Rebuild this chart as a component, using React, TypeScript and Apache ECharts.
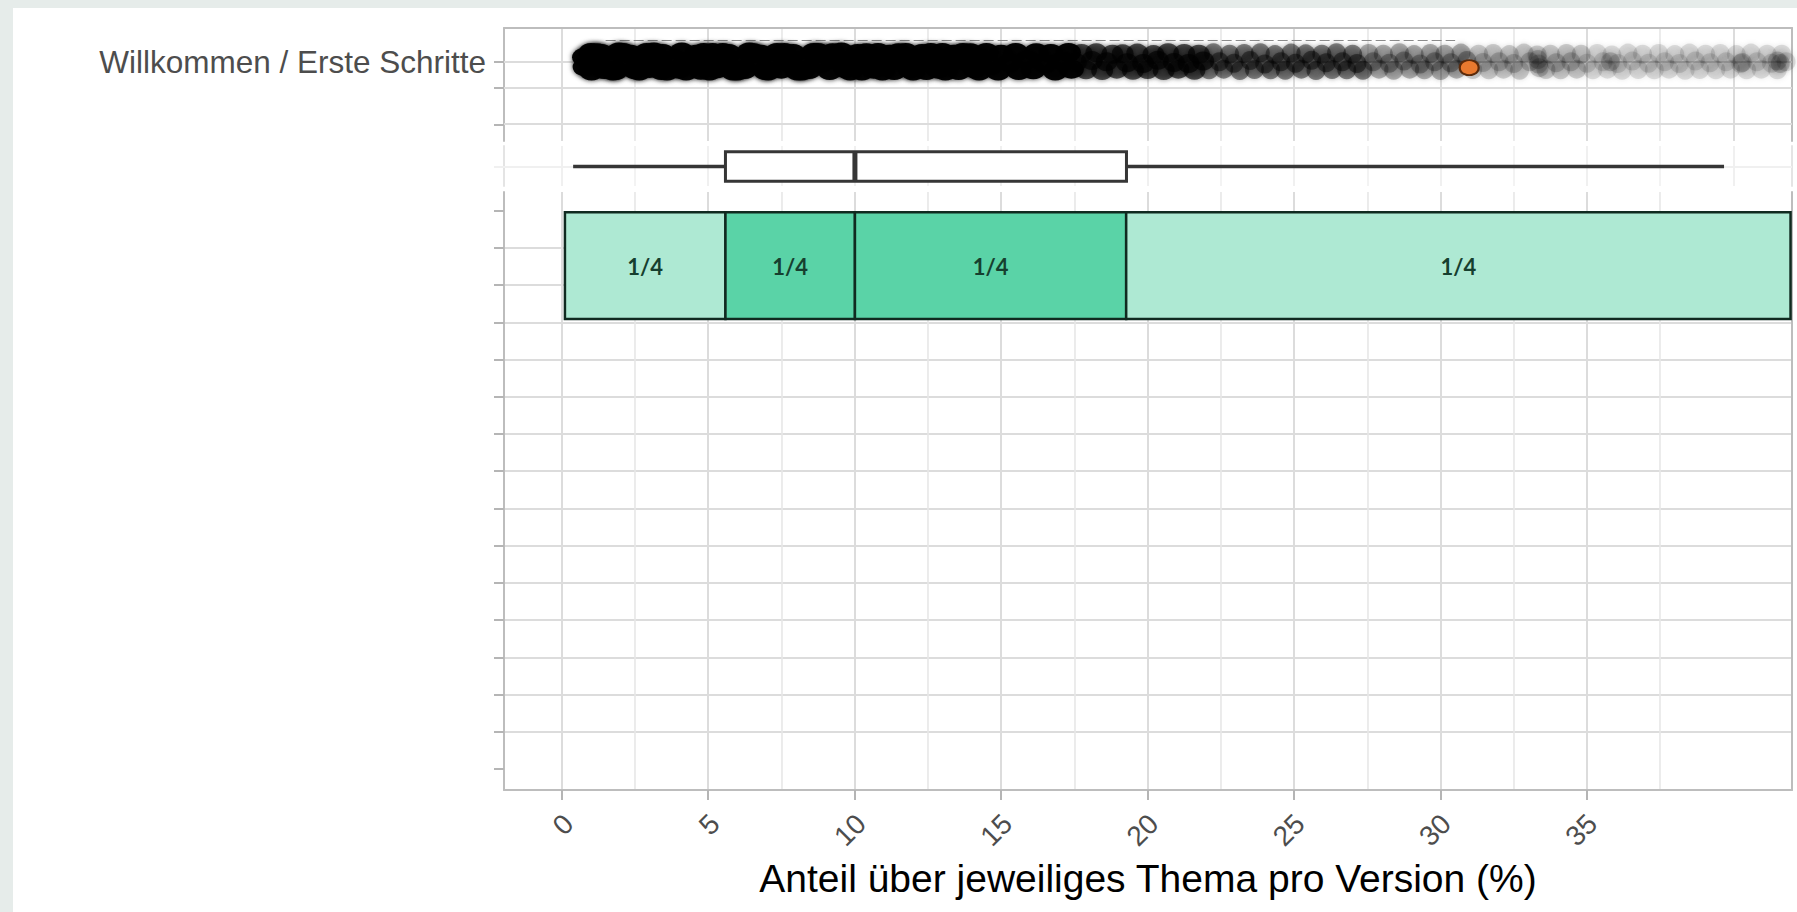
import React, { useEffect, useRef } from 'react';
import * as echarts from 'echarts';

// ---------- data ----------
const X_MIN = -1.97;
const X_MAX = 42.0;
const xTickValues = [0, 5, 10, 15, 20, 25, 30, 35];
const topicLabel = 'Willkommen / Erste Schritte';
const axisTitle = 'Anteil über jeweiliges Thema pro Version (%)';

// box plot statistics: min, q1, median, q3, max
const boxStats = [0.39, 5.59, 10.01, 19.28, 39.68];

// quartile bar
const quartileStarts = [0.11, 5.59, 10.01, 19.27];
const quartileEnds = [5.59, 10.01, 19.27, 41.95];
const quartileLabels = ['1/4', '1/4', '1/4', '1/4'];
const quartileShade = ['light', 'mid', 'mid', 'light'];

// highlighted version (orange point): [x, jitter]
const highlightPoint = [30.98, 0.16];

// jittered points of the topic row: [x, jitter]
const dotsBlack = [
  [0.78, -0.12], [0.8, 0.14], [1.0, -0.25], [1.02, 0.25], [1.1, 0.02], [1.2, -0.24], [1.35, -0.22], [1.45, 0.21],
  [1.6, -0.04], [1.75, 0.25], [1.85, 0.24], [1.95, -0.26], [2.1, -0.25], [2.2, 0.06], [2.35, -0.2], [2.5, 0.22],
  [2.65, 0.25], [2.75, -0.05], [2.9, -0.25], [3.0, 0.18], [3.15, -0.26], [3.3, 0.02], [3.4, 0.24], [3.45, -0.22],
  [3.6, 0.25], [3.85, -0.08], [4.0, 0.2], [4.1, -0.26], [4.25, 0.25], [4.4, 0.04], [4.6, -0.2], [4.75, 0.23],
  [4.85, -0.25], [4.95, -0.02], [5.05, 0.25], [5.15, -0.25], [5.3, 0.19], [5.5, -0.25], [5.55, 0.03], [5.7, -0.22],
  [5.85, 0.25], [6.0, 0.25], [6.1, -0.06], [6.25, 0.21], [6.4, -0.26], [6.55, -0.24], [6.65, 0.05], [6.8, -0.2],
  [6.95, 0.24], [7.05, 0.25], [7.2, -0.03], [7.35, -0.25], [7.5, 0.2], [7.6, -0.25], [7.75, 0.02], [7.9, -0.22],
  [8.05, 0.25], [8.2, 0.25], [8.3, -0.07], [8.45, 0.21], [8.6, -0.25], [8.75, -0.25], [8.85, 0.04], [9.0, -0.19],
  [9.15, 0.24], [9.25, -0.24], [9.4, -0.03], [9.55, -0.26], [9.7, 0.19], [9.85, 0.25], [9.95, 0.03], [10.1, -0.22],
  [10.25, 0.25], [10.4, -0.24], [10.5, -0.06], [10.65, 0.2], [10.8, -0.25], [10.95, 0.25], [11.05, 0.05], [11.2, -0.2],
  [11.35, 0.24], [11.5, -0.24], [11.6, -0.02], [11.75, -0.25], [11.9, 0.2], [12.0, 0.25], [12.15, 0.03], [12.3, -0.22],
  [12.45, 0.24], [12.6, -0.25], [12.7, -0.07], [12.85, 0.2], [13.0, -0.25], [13.1, 0.25], [13.25, 0.04], [13.4, -0.2],
  [13.55, 0.24], [13.7, -0.25], [13.8, -0.02], [13.95, -0.24], [14.1, 0.19], [14.25, 0.25], [14.3, -0.1], [14.5, -0.25],
  [14.65, 0.1], [14.9, 0.25], [15.0, -0.2], [15.3, 0.02], [15.5, -0.25], [15.6, 0.24], [15.9, -0.05], [16.1, 0.22],
  [16.2, -0.24], [16.5, 0.05], [16.7, -0.22], [16.85, 0.25], [17.1, -0.02], [17.3, -0.25], [17.4, 0.2]
];
const dotsDark = [
  [17.55, 0.02], [17.75, -0.22], [17.9, 0.22], [18.1, -0.03], [18.25, -0.24], [18.45, 0.24], [18.6, 0.0], [18.8, -0.2],
  [18.95, 0.2], [19.15, -0.21], [19.3, 0.03], [19.5, 0.23], [19.65, -0.23], [19.85, 0.05], [20.0, 0.21], [20.2, -0.19],
  [20.35, -0.04], [20.55, 0.24], [20.7, -0.24], [20.9, 0.02], [21.05, 0.2], [21.25, -0.22], [21.4, 0.05], [21.6, 0.23],
  [21.75, -0.2], [21.9, -0.02]
];
const dotsMid = [
  [22.1, 0.22], [22.25, -0.24], [22.45, 0.0], [22.6, 0.2], [22.8, -0.2], [22.95, 0.04], [23.15, 0.24], [23.3, -0.22],
  [23.5, -0.03], [23.65, 0.21], [23.85, -0.24], [24.0, 0.06], [24.2, 0.22], [24.35, -0.19], [24.55, 0.0], [24.7, 0.23],
  [24.9, -0.23], [25.05, 0.04], [25.25, 0.2], [25.4, -0.21], [25.6, -0.04], [25.75, 0.24], [25.95, -0.2], [26.1, 0.03],
  [26.3, 0.21], [26.45, -0.24], [26.65, 0.0], [26.8, 0.22], [27.0, -0.2], [27.15, 0.05], [27.35, 0.23]
];
const dotsLight = [
  [27.55, -0.22], [27.7, 0.0], [27.9, 0.2], [28.05, -0.2], [28.25, 0.04], [28.4, 0.23], [28.6, -0.24], [28.75, -0.02],
  [28.95, 0.2], [29.1, -0.19], [29.3, 0.06], [29.45, 0.22], [29.65, -0.22], [29.8, 0.0], [30.0, 0.24], [30.15, -0.2],
  [30.35, 0.03], [30.55, 0.2], [30.7, -0.23], [30.9, -0.03]
];
const dotsPale = [
  [31.1, 0.21], [31.3, -0.2], [31.45, 0.02], [31.65, 0.22], [31.8, -0.22], [32.0, 0.0], [32.15, 0.2], [32.35, -0.19],
  [32.5, 0.05], [32.7, 0.23], [32.85, -0.23], [33.05, 0.0], [33.3, -0.18], [33.33, -0.06], [33.35, 0.06], [33.37, 0.16],
  [33.6, 0.21], [33.75, -0.2], [33.95, 0.03], [34.1, 0.22], [34.3, -0.22], [34.45, 0.0], [34.65, 0.2], [34.8, -0.2],
  [35.8, 0.0], [40.3, 0.02], [41.5, -0.02], [41.6, 0.05]
];
const dotsFaint = [
  [35.0, 0.04], [35.2, 0.22], [35.35, -0.22], [35.55, 0.0], [35.7, 0.2], [35.85, -0.18], [36.05, 0.05], [36.2, 0.23],
  [36.4, -0.23], [36.55, -0.02], [36.75, 0.21], [36.9, -0.2], [37.1, 0.04], [37.3, 0.22], [37.45, -0.22], [37.65, 0.0],
  [37.8, 0.2], [38.0, -0.19], [38.15, 0.05], [38.35, 0.23], [38.5, -0.23], [38.7, -0.02], [38.85, 0.21], [39.05, -0.2],
  [39.2, 0.03], [39.4, 0.22], [39.55, -0.22], [39.75, 0.0], [39.9, 0.2], [40.1, -0.19], [40.25, 0.05], [40.45, 0.22],
  [40.6, -0.23], [40.8, 0.0], [40.95, 0.2], [41.15, -0.2], [41.3, 0.04], [41.5, 0.22], [41.65, -0.2], [41.8, 0.0]
];

// thin line above the point cloud: [xStart, xEnd, row]
const cloudEdgeLine = [1.5, 30.5, -0.565];

// row positions (in row units)
const topTickRows = [0, 0.688, 1.682];
const topLineRows = [0, 0.688, 1.682];
const mainRows = [0, 1, 2, 3, 4, 5, 6, 7, 8, 9, 10, 11, 12, 13, 14, 15];

// ---------- layout / style constants ----------
const T_MIN = -0.905, T_MAX = 2.131;
const S_MIN = -0.551, S_MAX = 0.524;
const M_MIN = -0.5, M_MAX = 15.565;
const BOX_HALF = 0.394;
const BAR_Y0 = 0.043, BAR_Y1 = 2.91;

const BORDER = '#bdbdbd';
const GRID_MAJOR = '#dcdcdc';
const GRID_MINOR = '#e7e7e7';
const FADE_BORDER = '#e4e4e4';
const FADE_GRID = '#f0f0f0';
const TICK = '#b5b5b5';
const FONT = 'Liberation Sans, Arial, sans-serif';
const SHADE: Record<string, string> = { light: '#aee9d3', mid: '#5ad3a7' };

function xAxisBase(gridIndex: number, faded: boolean) {
  return {
    type: 'value',
    gridIndex,
    min: X_MIN,
    max: X_MAX,
    minInterval: 5,
    maxInterval: 5,
    axisLine: { show: false, onZero: false },
    axisTick: { show: false },
    axisLabel: { show: false },
    splitLine: { show: true, lineStyle: { color: faded ? FADE_GRID : GRID_MAJOR, width: 2 } },
    minorTick: { show: false, splitNumber: 2 },
    minorSplitLine: { show: true, lineStyle: { color: faded ? FADE_GRID : GRID_MINOR, width: 1.6 } },
  };
}

function dotSeries(data: number[][], opacity: number, size: number | number[] = 19) {
  return {
    type: 'scatter',
    xAxisIndex: 0,
    yAxisIndex: 0,
    data,
    symbol: 'circle',
    symbolSize: size,
    itemStyle: { color: '#000000', opacity, shadowBlur: 5, shadowColor: 'rgba(0,0,0,0.8)' },
    silent: true,
    z: 3,
  };
}

export default function App() {
  const ref = useRef<HTMLDivElement>(null);
  useEffect(() => {
    const chart = echarts.init(ref.current!, undefined, { renderer: 'svg' });
    const option: any = {
      animation: false,
      backgroundColor: '#ffffff',
      graphic: [
        { type: 'rect', shape: { x: 0, y: 0, width: 1797, height: 8 }, style: { fill: '#e6ecea' }, silent: true, z: -10 },
        { type: 'rect', shape: { x: 0, y: 0, width: 13, height: 912 }, style: { fill: '#e6ecea' }, silent: true, z: -10 },
      ],
      grid: [
        { left: 504, width: 1288, top: 28, height: 113 },
        { left: 504, width: 1288, top: 146, height: 40 },
        { left: 504, width: 1288, top: 192, height: 598 },
        { left: 511, width: 1288, top: 192, height: 598 },
      ],
      xAxis: [
        { ...xAxisBase(0, false), position: 'top', axisLine: { show: true, onZero: false, lineStyle: { color: BORDER, width: 2 } } },
        { ...xAxisBase(1, true) },
        {
          ...xAxisBase(2, false),
          position: 'bottom',
          axisLine: { show: true, onZero: false, lineStyle: { color: BORDER, width: 2 } },
          axisTick: { show: true, length: 10, customValues: xTickValues, lineStyle: { color: TICK, width: 2 } },
          name: axisTitle,
          nameLocation: 'middle',
          nameGap: 69,
          nameTextStyle: { fontSize: 39, color: '#000000', fontFamily: FONT },
        },
        {
          type: 'value',
          gridIndex: 3,
          min: X_MIN,
          max: X_MAX,
          position: 'bottom',
          axisLine: { show: false, onZero: false },
          axisTick: { show: false },
          splitLine: { show: false },
          axisLabel: {
            show: true,
            customValues: xTickValues,
            rotate: 45,
            margin: 29,
            fontSize: 28,
            color: '#4d4d4d',
            fontFamily: FONT,
            formatter: (v: number) => String(v),
          },
        },
      ],
      yAxis: [
        {
          type: 'value', gridIndex: 0, inverse: true, min: T_MIN, max: T_MAX,
          axisLine: { show: true, onZero: false, lineStyle: { color: BORDER, width: 2 } },
          axisTick: { show: true, length: 10, customValues: topTickRows, lineStyle: { color: TICK, width: 2 } },
          axisLabel: {
            show: true, customValues: [0], margin: 18, fontSize: 31.5, color: '#4d4d4d', fontFamily: FONT,
            formatter: () => topicLabel,
          },
          splitLine: { show: false },
        },
        {
          type: 'value', gridIndex: 0, position: 'right', inverse: true, min: T_MIN, max: T_MAX,
          axisLine: { show: true, onZero: false, lineStyle: { color: BORDER, width: 2 } },
          axisTick: { show: false }, axisLabel: { show: false }, splitLine: { show: false },
        },
        {
          type: 'value', gridIndex: 1, inverse: true, min: S_MIN, max: S_MAX,
          axisLine: { show: true, onZero: false, lineStyle: { color: FADE_BORDER, width: 2 } },
          axisTick: { show: true, length: 10, customValues: [0], lineStyle: { color: FADE_GRID, width: 2 } },
          axisLabel: { show: false }, splitLine: { show: false },
        },
        {
          type: 'value', gridIndex: 1, position: 'right', inverse: true, min: S_MIN, max: S_MAX,
          axisLine: { show: true, onZero: false, lineStyle: { color: FADE_BORDER, width: 2 } },
          axisTick: { show: false }, axisLabel: { show: false }, splitLine: { show: false },
        },
        {
          type: 'value', gridIndex: 2, inverse: true, min: M_MIN, max: M_MAX, minInterval: 1, maxInterval: 1,
          axisLine: { show: true, onZero: false, lineStyle: { color: BORDER, width: 2 } },
          axisTick: { show: true, length: 10, customValues: mainRows, lineStyle: { color: TICK, width: 2 } },
          axisLabel: { show: false },
          splitLine: { show: true, showMinLine: false, showMaxLine: false, lineStyle: { color: GRID_MAJOR, width: 2 } },
        },
        {
          type: 'value', gridIndex: 2, position: 'right', inverse: true, min: M_MIN, max: M_MAX,
          axisLine: { show: true, onZero: false, lineStyle: { color: BORDER, width: 2 } },
          axisTick: { show: false }, axisLabel: { show: false }, splitLine: { show: false },
        },
        { type: 'value', gridIndex: 3, min: 0, max: 1, show: false },
      ],
      series: [
        {
          type: 'scatter', xAxisIndex: 0, yAxisIndex: 0, data: [], silent: true, z: 1,
          markLine: {
            silent: true, z: 1, symbol: ['none', 'none'], label: { show: false },
            lineStyle: { color: GRID_MAJOR, width: 2, type: 'solid' },
            data: [
              ...topLineRows.map((v) => ({ yAxis: v })),
              [
                { coord: [cloudEdgeLine[0], cloudEdgeLine[2]], lineStyle: { color: '#8c8c8c', width: 1.2, type: [10, 4] } },
                { coord: [cloudEdgeLine[1], cloudEdgeLine[2]] },
              ],
            ],
          },
        },
        {
          type: 'scatter', xAxisIndex: 1, yAxisIndex: 2, data: [], silent: true, z: 1,
          markLine: {
            silent: true, z: 1, symbol: ['none', 'none'], label: { show: false },
            lineStyle: { color: FADE_GRID, width: 2, type: 'solid' },
            data: [{ yAxis: 0 }],
          },
        },
        dotSeries(dotsBlack, 0.97, [25, 19]),
        dotSeries(dotsDark, 0.62, [22, 19]),
        dotSeries(dotsMid, 0.42),
        dotSeries(dotsLight, 0.26),
        dotSeries(dotsPale, 0.16),
        dotSeries(dotsFaint, 0.11),
        {
          type: 'scatter', xAxisIndex: 0, yAxisIndex: 0, data: [highlightPoint], symbol: 'circle', symbolSize: [19, 15],
          itemStyle: { color: '#e8792f', borderColor: '#5a2a0b', borderWidth: 2, opacity: 1 }, silent: true, z: 5,
        },
        {
          type: 'custom', xAxisIndex: 1, yAxisIndex: 2, silent: true, z: 3,
          data: [boxStats],
          renderItem: (params: any, api: any) => {
            const mn = api.value(0), q1 = api.value(1), md = api.value(2), q3 = api.value(3), mx = api.value(4);
            const pMin = api.coord([mn, 0]);
            const pQ1 = api.coord([q1, 0]);
            const pQ3 = api.coord([q3, 0]);
            const pMax = api.coord([mx, 0]);
            const top = api.coord([q1, -BOX_HALF])[1];
            const bot = api.coord([q1, BOX_HALF])[1];
            const pMd = api.coord([md, 0]);
            const stroke = '#363636';
            return {
              type: 'group',
              children: [
                { type: 'line', shape: { x1: pMin[0], y1: pMin[1], x2: pQ1[0], y2: pQ1[1] }, style: { stroke, lineWidth: 3.5 } },
                { type: 'line', shape: { x1: pQ3[0], y1: pQ3[1], x2: pMax[0], y2: pMax[1] }, style: { stroke, lineWidth: 3.5 } },
                { type: 'rect', shape: { x: pQ1[0], y: top, width: pQ3[0] - pQ1[0], height: bot - top }, style: { fill: '#ffffff', stroke, lineWidth: 3 } },
                { type: 'line', shape: { x1: pMd[0], y1: top, x2: pMd[0], y2: bot }, style: { stroke, lineWidth: 5 } },
              ],
            };
          },
        },
        {
          type: 'custom', xAxisIndex: 2, yAxisIndex: 4, silent: true, z: 3,
          data: quartileStarts.map((s, i) => [s, quartileEnds[i], i]),
          renderItem: (params: any, api: any) => {
            const s = api.value(0), e = api.value(1), i = api.value(2);
            const p0 = api.coord([s, BAR_Y0]);
            const p1 = api.coord([e, BAR_Y1]);
            const fill = SHADE[quartileShade[i]];
            return {
              type: 'group',
              children: [
                { type: 'rect', shape: { x: p0[0], y: p0[1], width: p1[0] - p0[0], height: p1[1] - p0[1] }, style: { fill, stroke: '#102a20', lineWidth: 2.5 } },
                {
                  type: 'text', x: (p0[0] + p1[0]) / 2, y: (p0[1] + p1[1]) / 2 + 1,
                  style: {
                    text: quartileLabels[i], fill: '#163f2f', font: 'bold 22px "Liberation Sans Narrow", Lato, sans-serif',
                    align: 'center', verticalAlign: 'middle', textAlign: 'center', textVerticalAlign: 'middle',
                  },
                },
              ],
            };
          },
        },
      ],
    };
    chart.setOption(option);
    return () => chart.dispose();
  }, []);
  return <div ref={ref} style={{ position: 'absolute', left: 0, top: 0, width: 1797, height: 912 }} />;
}
